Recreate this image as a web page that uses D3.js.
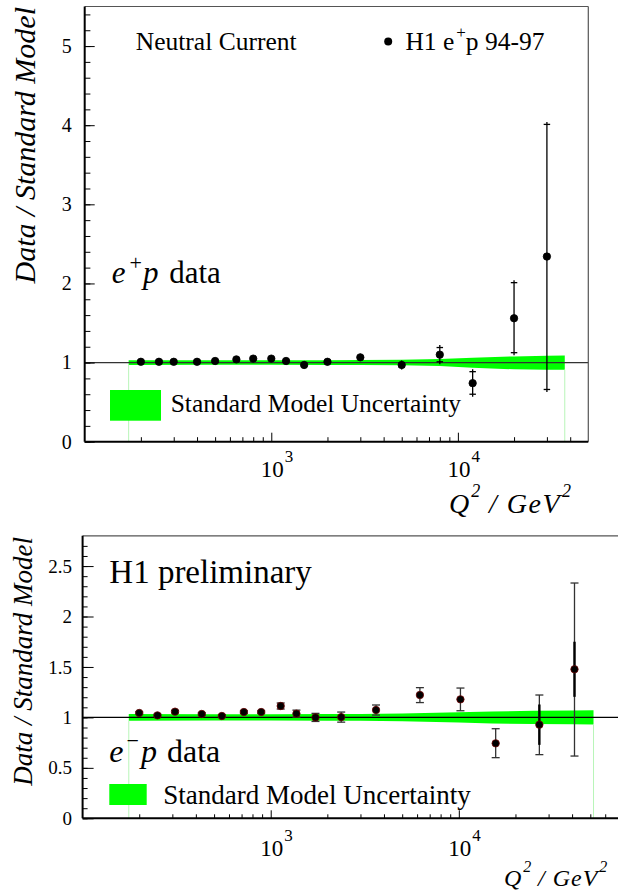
<!DOCTYPE html>
<html><head><meta charset="utf-8">
<script src="https://cdn.jsdelivr.net/npm/d3@7"></script>
<style>
html,body{margin:0;padding:0;background:#fff;}
svg{display:block;}
text{font-family:"Liberation Serif","Times New Roman",serif;fill:#000;}
</style></head>
<body>
<svg id="chart" width="618" height="890" font-family="Liberation Serif"></svg>
<script>
// ---------- DATA ----------
// e+p (top panel)
const q2EP   = [200, 250, 300, 400, 500, 650, 800, 1000, 1200, 1500, 2000, 3000, 5000, 8000, 12000, 20000, 30000];
const ratioEP= [1.01, 1.01, 1.01, 1.01, 1.02, 1.04, 1.05, 1.05, 1.02, 0.97, 1.01, 1.066, 0.97, 1.10, 0.74, 1.56, 2.34];
const errUpEP= [0.01, 0.01, 0.01, 0.01, 0.01, 0.01, 0.01, 0.01, 0.01, 0.012, 0.012, 0.015, 0.025, 0.09, 0.145, 0.45, 1.67];
const errDnEP= [0.01, 0.01, 0.01, 0.01, 0.01, 0.01, 0.01, 0.01, 0.01, 0.012, 0.012, 0.015, 0.025, 0.09, 0.14, 0.435, 1.68];
const bandQ2EP = [172, 500, 1000, 2000, 3000, 5000, 8000, 12000, 20000, 30000, 37400];
const bandLoEP = [0.97, 0.972, 0.972, 0.97, 0.97, 0.965, 0.957, 0.935, 0.915, 0.91, 0.91];
const bandHiEP = [1.03, 1.028, 1.028, 1.03, 1.032, 1.037, 1.045, 1.06, 1.078, 1.085, 1.088];

// e-p (bottom panel)
const q2EM   = [200, 250, 310, 430, 550, 720, 890, 1130, 1370, 1730, 2370, 3630, 6210, 10200, 15700, 26800, 41200];
const ratioEM= [1.044, 1.02, 1.057, 1.034, 1.014, 1.053, 1.053, 1.113, 1.037, 1.00, 1.003, 1.073, 1.222, 1.179, 0.743, 0.928, 1.477];
const errUpEM= [0.012, 0.012, 0.012, 0.012, 0.012, 0.012, 0.012, 0.03, 0.035, 0.04, 0.05, 0.05, 0.073, 0.112, 0.145, 0.294, 0.855];
const errDnEM= [0.012, 0.012, 0.012, 0.012, 0.012, 0.012, 0.012, 0.03, 0.035, 0.04, 0.05, 0.05, 0.075, 0.113, 0.142, 0.297, 0.86];
const statEM = [0.01, 0.01, 0.01, 0.01, 0.01, 0.01, 0.01, 0.02, 0.02, 0.02, 0.03, 0.03, 0.05, 0.08, 0.1, 0.2, 0.273];
const bandQ2EM = [176, 500, 1000, 2000, 3000, 5000, 10000, 15000, 25000, 40000, 52000];
const bandLoEM = [0.967, 0.97, 0.97, 0.968, 0.967, 0.962, 0.95, 0.94, 0.935, 0.932, 0.93];
const bandHiEM = [1.033, 1.032, 1.032, 1.033, 1.035, 1.038, 1.05, 1.058, 1.065, 1.068, 1.07];

// ticks
const xMinorTop = [200,300,400,500,600,700,800,900,2000,3000,4000,5000,6000,7000,8000,9000,20000,30000,40000];
const xMinorBot = [200,300,400,500,600,700,800,900,2000,3000,4000,5000,6000,7000,8000,9000,20000,30000,40000,50000,60000];
const xMajor = [1000, 10000];
const xMajorExp = ["3", "4"];
const yMajorTop = [0,1,2,3,4,5];
const yMinorTop = d3.range(0, 5.5, 0.2).map(v => +v.toFixed(2));
const yMajorBot = [0,0.5,1,1.5,2,2.5];
const yMinorBot = d3.range(0, 2.8, 0.1).map(v => +v.toFixed(2));

// ---------- DRAW ----------
const svg = d3.select("#chart");

function panel(cfg) {
  const g = svg.append("g");
  const x = cfg.x, y = cfg.y;
  const [x0, x1] = x.range();
  const [yb, yt] = y.range();

  // band
  const band = cfg.bandQ2.map((q, i) => ({q, lo: cfg.bandLo[i], hi: cfg.bandHi[i]}));
  g.append("path").datum(band)
    .attr("d", d3.area().x(d => x(d.q)).y0(d => y(d.lo)).y1(d => y(d.hi)))
    .attr("fill", "#00ff00");
  // light green verticals at band ends
  [band[0], band[band.length-1]].forEach(d => {
    g.append("line").attr("x1", x(d.q)).attr("x2", x(d.q))
      .attr("y1", y(d.lo)).attr("y2", yb)
      .attr("stroke", "#b8f5b8").attr("stroke-width", 1);
  });

  // reference line
  g.append("line").attr("x1", x0).attr("x2", cfg.refEnd).attr("y1", y(1)).attr("y2", y(1))
    .attr("stroke", cfg.refColor).attr("stroke-width", 1.3);

  // frame top/right
  g.append("line").attr("x1", x0).attr("x2", cfg.frameRight).attr("y1", yt).attr("y2", yt)
    .attr("stroke", "#555").attr("stroke-width", 1.2);
  if (cfg.drawRight) {
    g.append("line").attr("x1", x1).attr("x2", x1).attr("y1", yt).attr("y2", yb)
      .attr("stroke", "#555").attr("stroke-width", 1.2);
  }

  // axes (ticks inward)
  const ax = (axis, tr) => {
    const a = g.append("g").attr("transform", tr).call(axis);
    a.select(".domain").remove();
    a.selectAll(".tick line").attr("stroke", "#000").attr("stroke-width", 1);
    return a;
  };
  ax(d3.axisBottom(x).tickValues(cfg.xMinor).tickSize(-cfg.xMinorLen).tickFormat(""), `translate(0,${yb})`);
  ax(d3.axisBottom(x).tickValues(xMajor).tickSize(-cfg.xMajorLen).tickFormat(""), `translate(0,${yb})`);
  ax(d3.axisLeft(y).tickValues(cfg.yMinor).tickSize(-cfg.yMinorLen).tickFormat(""), `translate(${x0},0)`);
  const yl = ax(d3.axisLeft(y).tickValues(cfg.yMajor).tickSize(-cfg.yMajorLen).tickPadding(cfg.yPad)
      .tickFormat(d => String(d)), `translate(${x0},0)`);
  yl.attr("font-family", "Liberation Serif");
  yl.selectAll(".tick text").attr("font-family", "Liberation Serif").attr("font-size", cfg.yFont).attr("fill", "#000");

  // axis lines (left/bottom)
  g.append("line").attr("x1", x0).attr("x2", cfg.frameRight).attr("y1", yb).attr("y2", yb)
    .attr("stroke", "#000").attr("stroke-width", 2);
  g.append("line").attr("x1", x0).attr("x2", x0).attr("y1", yt).attr("y2", yb)
    .attr("stroke", "#000").attr("stroke-width", 2);

  // x labels 10^n
  xMajor.forEach((v, i) => {
    g.append("text").attr("x", x(v) + 1).attr("y", cfg.xLabBase).attr("text-anchor", "middle")
      .attr("font-size", 23).text("10");
    g.append("text").attr("x", x(v) + 13.5).attr("y", cfg.xLabBase - 15).attr("font-size", 17).text(xMajorExp[i]);
  });

  // data
  const pts = cfg.q2.map((q, i) => ({q, r: cfg.ratio[i], up: cfg.errUp[i], dn: cfg.errDn[i], st: cfg.stat ? cfg.stat[i] : 0}));
  const eg = g.append("g");
  pts.forEach(d => {
    const cx = x(d.q);
    eg.append("line").attr("x1", cx).attr("x2", cx)
      .attr("y1", y(d.r + d.up) - cfg.capOver).attr("y2", y(d.r - d.dn) + cfg.capOver)
      .attr("stroke", cfg.errColor).attr("stroke-width", 1.3);
    [d.r + d.up, d.r - d.dn].forEach(v => {
      eg.append("line").attr("x1", cx - cfg.capW/2).attr("x2", cx + cfg.capW/2)
        .attr("y1", y(v)).attr("y2", y(v)).attr("stroke", cfg.errColor).attr("stroke-width", 1.3);
    });
    if (d.st > 0.1) {
      eg.append("line").attr("x1", cx).attr("x2", cx)
        .attr("y1", y(d.r + d.st)).attr("y2", y(d.r - d.st))
        .attr("stroke", "#000").attr("stroke-width", 2.4);
    }
  });
  g.append("g").selectAll("circle").data(pts).join("circle")
    .attr("cx", d => x(d.q)).attr("cy", d => y(d.r)).attr("r", 3.7)
    .attr("fill", "#000").attr("stroke", cfg.markStroke).attr("stroke-width", 0.8);
  return g;
}

const xTop = d3.scaleLog().domain([100, 50000]).range([84.7, 588.3]);
const yTop = d3.scaleLinear().domain([0, 5.5]).range([441.7, 6.5]);
panel({x: xTop, y: yTop, bandQ2: bandQ2EP, bandLo: bandLoEP, bandHi: bandHiEP,
  q2: q2EP, ratio: ratioEP, errUp: errUpEP, errDn: errDnEP,
  refEnd: 588.3, refColor: "#333", frameRight: 588.3, drawRight: true,
  xMinor: xMinorTop, xMinorLen: 4.5, xMajorLen: 9, yMinor: yMinorTop, yMajor: yMajorTop,
  yMinorLen: 5.7, yMajorLen: 10, yPad: 13, yFont: 20, xLabBase: 477,
  capW: 6.5, capOver: 2.5, errColor: "#000", markStroke: "#000"});

const xBot = d3.scaleLog().domain([100, 70000]).range([82.6, 617.8]);
const yBot = d3.scaleLinear().domain([0, 2.8]).range([818.3, 535.8]);
panel({x: xBot, y: yBot, bandQ2: bandQ2EM, bandLo: bandLoEM, bandHi: bandHiEM,
  q2: q2EM, ratio: ratioEM, errUp: errUpEM, errDn: errDnEM, stat: statEM,
  refEnd: 618, refColor: "#000", frameRight: 618, drawRight: false,
  xMinor: xMinorBot, xMinorLen: 4, xMajorLen: 8, yMinor: yMinorBot, yMajor: yMajorBot,
  yMinorLen: 5, yMajorLen: 11, yPad: 10.6, yFont: 19, xLabBase: 855.5,
  capW: 8, capOver: 0, errColor: "#333", markStroke: "#6a0000"});

// ---------- TEXT ----------
// top panel
svg.append("text").attr("x", 135.8).attr("y", 50).attr("font-size", 25.5).text("Neutral Current");
svg.append("circle").attr("cx", 388.2).attr("cy", 41.5).attr("r", 4).attr("fill", "#000");
const h1 = svg.append("text").attr("x", 405.4).attr("y", 50).attr("font-size", 25.5);
h1.append("tspan").text("H1 e");
h1.append("tspan").attr("font-size", 17).attr("dy", -12).attr("dx", 2).text("+");
h1.append("tspan").attr("dy", 12).text("p 94-97");

const epd = svg.append("text").attr("x", 111.7).attr("y", 283.3).attr("font-size", 31);
epd.append("tspan").attr("font-style", "italic").text("e");
epd.append("tspan").attr("font-size", 22).attr("dy", -13).attr("dx", 4).text("+");
epd.append("tspan").attr("font-style", "italic").attr("dy", 13).attr("dx", 1).text("p");
epd.append("tspan").attr("dx", 3).text(" data");

svg.append("rect").attr("x", 110).attr("y", 390).attr("width", 51).attr("height", 30.7).attr("fill", "#00ff00");
svg.append("text").attr("x", 170.7).attr("y", 412).attr("font-size", 25.5).text("Standard Model Uncertainty");

svg.append("text").attr("transform", "translate(35,7) rotate(-90)").attr("text-anchor", "end")
  .attr("font-size", 30).attr("font-style", "italic").text("Data / Standard Model");

const qt = svg.append("text").attr("x", 449).attr("y", 513).attr("font-size", 28).attr("font-style", "italic");
qt.append("tspan").text("Q");
qt.append("tspan").attr("font-size", 18).attr("dy", -16).attr("dx", 2).text("2");
qt.append("tspan").attr("dy", 16).attr("x", 489).attr("letter-spacing", 1.5).text("/ GeV");
qt.append("tspan").attr("font-size", 18).attr("dy", -16).attr("dx", 1).text("2");

// bottom panel
svg.append("text").attr("x", 109.3).attr("y", 583.3).attr("font-size", 33).text("H1 preliminary");
const emd = svg.append("text").attr("x", 109.3).attr("y", 761.7).attr("font-size", 32);
emd.append("tspan").attr("font-style", "italic").text("e");
emd.append("tspan").attr("font-size", 22).attr("dy", -14).attr("dx", 3).text("\u2212");
emd.append("tspan").attr("font-style", "italic").attr("dy", 14).attr("dx", 2).text("p");
emd.append("tspan").attr("dx", 2).text(" data");

svg.append("rect").attr("x", 109.3).attr("y", 784).attr("width", 37.4).attr("height", 21).attr("fill", "#00ff00");
svg.append("text").attr("x", 163.3).attr("y", 804).attr("font-size", 27).text("Standard Model Uncertainty");

svg.append("text").attr("transform", "translate(31.7,537) rotate(-90)").attr("text-anchor", "end")
  .attr("font-size", 27).attr("font-style", "italic").text("Data / Standard Model");

const qb = svg.append("text").attr("x", 504).attr("y", 886).attr("font-size", 24).attr("font-style", "italic");
qb.append("tspan").text("Q");
qb.append("tspan").attr("font-size", 16).attr("dy", -14).attr("dx", 2).text("2");
qb.append("tspan").attr("dy", 14).attr("x", 538).attr("letter-spacing", 1).text("/ GeV");
qb.append("tspan").attr("font-size", 16).attr("dy", -14).attr("dx", 1).text("2");
</script>
</body></html>
